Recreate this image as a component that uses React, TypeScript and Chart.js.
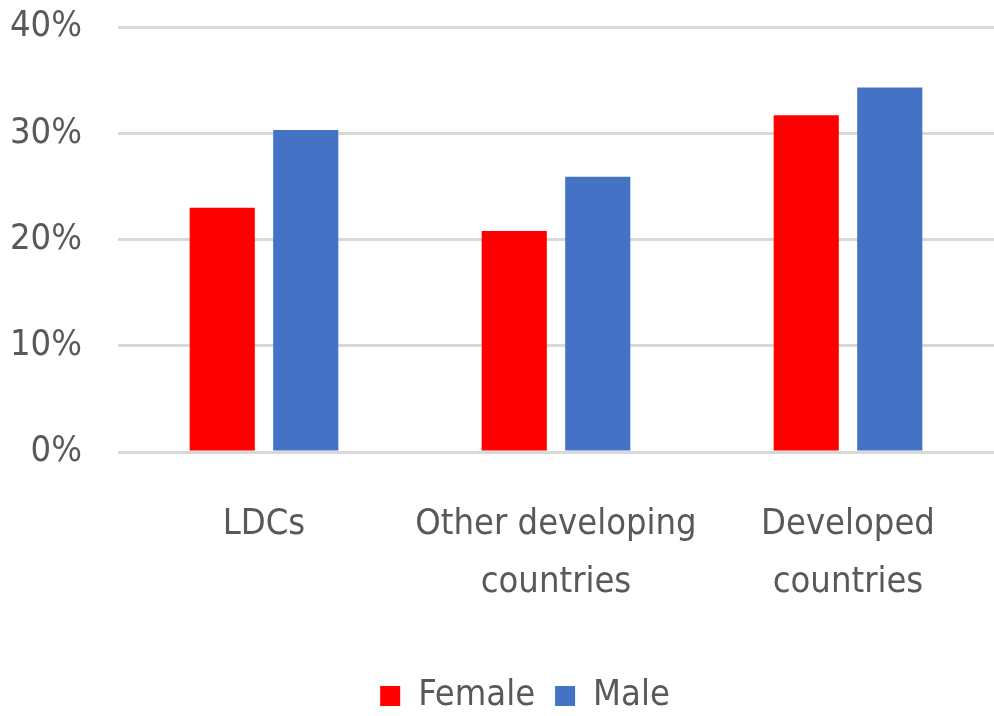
import React, { useEffect, useRef } from "react";
import { Chart, registerables } from "chart.js";

Chart.register(...registerables);

const categories: (string | string[])[] = ["LDCs", ["Other developing", "countries"], ["Developed", "countries"]];
const femaleValues = [23.0, 20.8, 31.7];
const maleValues = [30.3, 25.9, 34.3];
const seriesNames = ["Female", "Male"];
const yTicks = [0, 10, 20, 30, 40];

const FONT = "'Liberation Sans Narrow', 'DejaVu Sans Condensed', 'Liberation Sans', sans-serif";
const TEXT = "#595959";

const shiftLegend = {
  id: "shiftLegend",
  afterLayout(chart: any) {
    if (chart.legend) {
      chart.legend.left += 28;
      chart.legend.right += 28;
    }
  },
};

export default function App() {
  const ref = useRef<HTMLCanvasElement | null>(null);
  useEffect(() => {
    if (!ref.current) return;
    const chart = new Chart(ref.current, {
      type: "bar",
      data: {
        labels: categories,
        datasets: [
          { label: seriesNames[0], data: femaleValues, backgroundColor: "#FF0000", categoryPercentage: 0.572, barPercentage: 0.78 },
          { label: seriesNames[1], data: maleValues, backgroundColor: "#4472C4", categoryPercentage: 0.572, barPercentage: 0.78 },
        ],
      },
      options: {
        responsive: false,
        animation: false,
        layout: { padding: { top: 27, left: 0, right: 0, bottom: -8 } },
        plugins: {
          tooltip: { enabled: false },
          legend: {
            position: "bottom",
            labels: {
              boxWidth: 20,
              boxHeight: 20,
              padding: 20,
              color: TEXT,
              font: { family: FONT, size: 36 },
            },
          },
        },
        scales: {
          x: {
            grid: { display: false },
            border: { display: false },
            ticks: { color: TEXT, font: { family: FONT, size: 36, lineHeight: 1.6 }, padding: 36, maxRotation: 0, autoSkip: false },
            afterFit: (s: any) => { s.height = 206; s.paddingLeft = 0; s.paddingRight = 0; },
          },
          y: {
            min: 0,
            max: 40,
            afterBuildTicks: (s: any) => { s.ticks = yTicks.map((v) => ({ value: v })); },
            grid: { color: "#D9D9D9", lineWidth: 3, drawTicks: false },
            border: { display: false },
            ticks: { color: TEXT, font: { family: FONT, size: 36 }, padding: 36, callback: (v: any) => v + "%" },
            afterFit: (s: any) => { s.width = 118; s.paddingTop = 0; s.paddingBottom = 0; },
          },
        },
      },
      plugins: [shiftLegend],
    });
    return () => chart.destroy();
  }, []);
  return (
    <div style={{ position: "fixed", left: 0, top: 0, width: 994, height: 716, background: "#fff" }}>
      <canvas ref={ref} width={994} height={716} />
    </div>
  );
}
